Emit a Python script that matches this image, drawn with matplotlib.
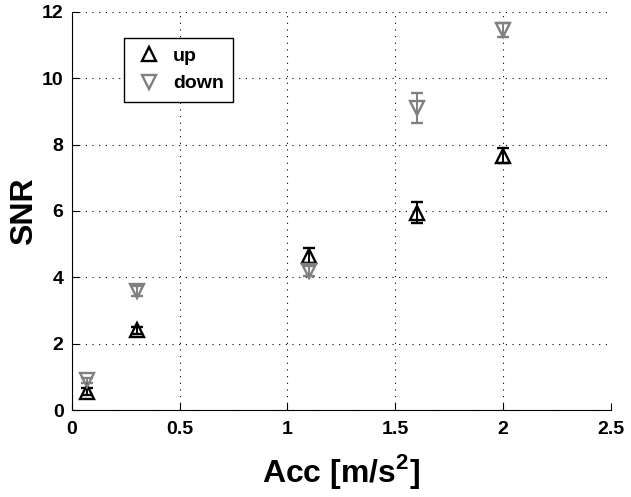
import matplotlib
matplotlib.use('Agg')
import matplotlib.pyplot as plt
from matplotlib.lines import Line2D

# SNR vs acceleration, up and down directions
acc_up = [0.07, 0.3, 1.1, 1.6, 2.0]
snr_up = [0.55, 2.4, 4.65, 5.95, 7.67]
err_up = [0.1, 0.1, 0.22, 0.32, 0.23]

acc_down = [0.07, 0.3, 1.1, 1.6, 2.0]
snr_down = [0.9, 3.6, 4.2, 9.1, 11.45]
err_down = [0.08, 0.15, 0.15, 0.46, 0.22]

plt.rcParams['font.family'] = ['Liberation Sans', 'DejaVu Sans']
plt.rcParams['font.weight'] = 'bold'
plt.rcParams['mathtext.fontset'] = 'custom'
plt.rcParams['mathtext.rm'] = 'Liberation Sans:bold'
plt.rcParams['mathtext.bf'] = 'Liberation Sans:bold'

fig = plt.figure(figsize=(6.31, 4.97), dpi=100)
ax = fig.add_axes([0.114, 0.175, 0.854, 0.801])

ax.errorbar(acc_up, snr_up, yerr=err_up, fmt='^', color='black', mfc='none',
            mec='black', ms=10.5, mew=1.7, capsize=4.5, elinewidth=1.4, capthick=1.4)
ax.errorbar(acc_down, snr_down, yerr=err_down, fmt='v', color='#808080', mfc='none',
            mec='#808080', ms=10.5, mew=1.7, capsize=4.5, elinewidth=1.4, capthick=1.4)

ax.set_xlim(0, 2.5)
ax.set_ylim(0, 12)
ax.set_xticks([0, 0.5, 1, 1.5, 2, 2.5])
ax.set_xticklabels(['0', '0.5', '1', '1.5', '2', '2.5'])
ax.set_yticks([0, 2, 4, 6, 8, 10, 12])
ax.grid(True, color='black', linestyle=(0, (1, 5)), linewidth=0.8)
ax.tick_params(direction='in', labelsize=14, length=5)
ax.tick_params(axis='x', pad=8)
ax.tick_params(axis='y', pad=6)
for lab in ax.get_xticklabels() + ax.get_yticklabels():
    lab.set_fontweight('bold')
ax.spines['top'].set_visible(False)
ax.spines['right'].set_visible(False)

ax.set_xlabel('Acc [m/s$^{2}$]', fontsize=23, fontweight='bold', labelpad=10)
ax.set_ylabel('SNR', fontsize=23, fontweight='bold', labelpad=2)

handles = [
    Line2D([], [], marker='^', ls='none', mfc='none', mec='black', ms=10.5, mew=1.7),
    Line2D([], [], marker='v', ls='none', mfc='none', mec='#808080', ms=10.5, mew=1.7),
]
leg = ax.legend(handles, ['up', 'down'], loc='upper left', bbox_to_anchor=(0.097, 0.935),
                borderaxespad=0, fancybox=False, edgecolor='black', framealpha=1,
                prop={'size': 14, 'weight': 'bold'}, handletextpad=0.5,
                handlelength=1.5, borderpad=0.5, labelspacing=0.5)
leg.get_frame().set_linewidth(1.0)

fig.savefig('out.png', dpi=100)
